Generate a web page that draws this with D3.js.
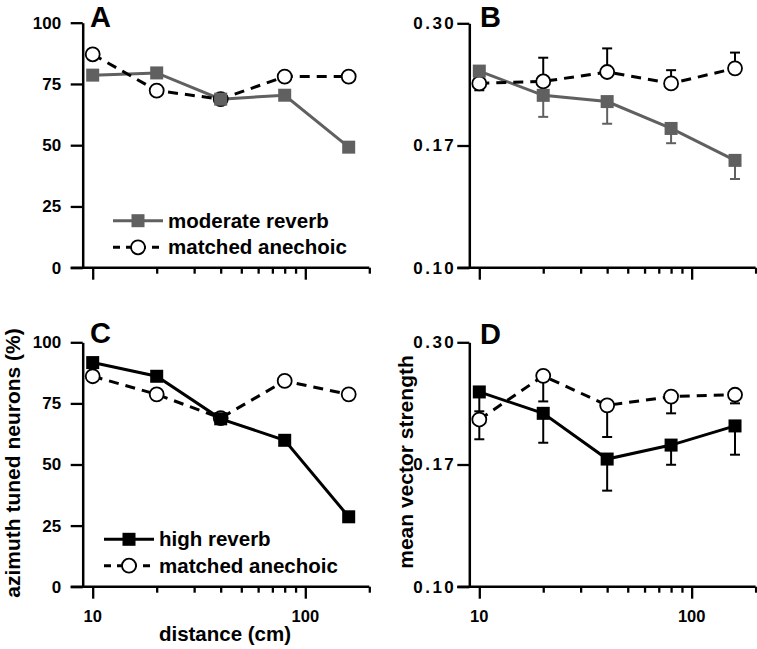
<!DOCTYPE html>
<html><head><meta charset="utf-8">
<script src="https://cdn.jsdelivr.net/npm/d3@7"></script>
<style>
body{margin:0;background:#fff}
svg{display:block}
text{font-family:"Liberation Sans",Arial,Helvetica,sans-serif;font-weight:bold;fill:#000}
</style>
</head><body>
<svg id="chart" width="757" height="649"></svg>
<script>
// ---- data ----
const distances = [10, 20, 40, 80, 160];
const xMajorTicks = [10, 100];
const xMinorTicks = [20, 30, 40, 50, 60, 70, 80, 90, 200];
const xTickLabels = ["10", "100"];
const pctTicks = [0, 25, 50, 75, 100];
const pctTickLabels = ["0", "25", "50", "75", "100"];
const vsTicks = [0.10, 0.1732, 0.30];
const vsTickLabels = ["0.10", "0.17", "0.30"];

// A: % azimuth tuned, moderate reverb vs matched anechoic
const tunedModerate = [78.6, 79.5, 68.8, 70.4, 49.2];
const tunedModerateAnechoic = [87.1, 72.3, 68.8, 78.0, 78.0];
// C: % azimuth tuned, high reverb vs matched anechoic
const tunedHigh = [91.7, 86.1, 68.7, 59.9, 28.6];
const tunedHighAnechoic = [86.1, 78.7, 69.0, 84.2, 78.7];
// B: mean vector strength, moderate reverb (value, error-bar end)
const vsModerate = [0.242, 0.217, 0.211, 0.187, 0.162];
const vsModerateErr = [null, 0.197, 0.191, 0.175, 0.149];
const vsModerateAnechoic = [0.229, 0.231, 0.241, 0.229, 0.245];
const vsModerateAnechoicErr = [0.222, 0.257, 0.268, 0.243, 0.263];
// D: mean vector strength, high reverb
const vsHigh = [0.240, 0.218, 0.1775, 0.189, 0.206];
const vsHighErr = [0.220, 0.191, 0.154, 0.173, 0.181];
const vsHighAnechoic = [0.212, 0.258, 0.226, 0.235, 0.237];
const vsHighAnechoicErr = [0.194, 0.230, 0.196, 0.218, 0.228];

const legendModerate = ["moderate reverb", "matched anechoic"];
const legendHigh = ["high reverb", "matched anechoic"];

// ---- drawing ----
const GRAY = "#606060";
const svg = d3.select("#chart");

function drawPanel(p) {
  const g = svg.append("g");
  const x = d3.scaleLog().domain([10, 200]).range(p.xr);
  const y = (p.log ? d3.scaleLog() : d3.scaleLinear()).domain(p.yd).range(p.yr);

  // y axis
  const ya = d3.axisLeft(y).tickValues(p.yt).tickFormat((d, i) => p.yl[i])
    .tickSize(12).tickSizeOuter(0).tickPadding(p.pad);
  const yg = g.append("g").attr("transform", `translate(${p.ax},0)`).call(ya);
  yg.attr("font-size", null).attr("font-family", null);
  yg.select(".domain").attr("stroke", "#000").attr("stroke-width", 2.5);
  yg.selectAll(".tick line").attr("stroke", "#000").attr("stroke-width", 2.3);
  yg.selectAll(".tick text").style("font-size", "17px")
    .style("letter-spacing", p.ls + "px");

  // x axis
  const allTicks = xMajorTicks.concat(xMinorTicks);
  const xa = d3.axisBottom(x).tickValues(allTicks).tickFormat(() => "").tickSize(6);
  const xg = g.append("g").attr("transform", `translate(0,${p.yr[0]})`).call(xa);
  xg.select(".domain").remove();
  xg.selectAll(".tick line").attr("stroke", "#000").attr("stroke-width", 2.3)
    .attr("y2", d => xMajorTicks.includes(d) ? 12 : 6);
  xg.append("line").attr("x1", p.ax - 12).attr("x2", x(200))
    .attr("y1", 0).attr("y2", 0).attr("stroke", "#000").attr("stroke-width", 2.5);
  if (p.xlabels) {
    xg.selectAll(".xl").data(xMajorTicks).enter().append("text")
      .attr("x", d => x(d)).attr("y", 35).attr("text-anchor", "middle")
      .style("font-size", "16.5px").text((d, i) => xTickLabels[i]);
  }

  // series lines
  const line = d3.line().x((d, i) => x(distances[i])).y(d => y(d));
  g.append("path").datum(p.rev).attr("d", line).attr("fill", "none")
    .attr("stroke", p.col).attr("stroke-width", 3);
  g.append("path").datum(p.ane).attr("d", line).attr("fill", "none")
    .attr("stroke", "#000").attr("stroke-width", 3).attr("stroke-dasharray", "10,7");

  // error bars
  function errBars(vals, errs, col) {
    if (!errs) return;
    const eg = g.append("g").attr("stroke", col).attr("stroke-width", 2);
    vals.forEach((v, i) => {
      const e = errs[i];
      if (e == null) return;
      const cx = x(distances[i]);
      eg.append("line").attr("x1", cx).attr("x2", cx).attr("y1", y(v)).attr("y2", y(e));
      eg.append("line").attr("x1", cx - 5).attr("x2", cx + 5).attr("y1", y(e)).attr("y2", y(e));
    });
  }
  errBars(p.ane, p.aneErr, "#000");
  errBars(p.rev, p.revErr, p.col);

  // markers
  g.selectAll(".circ").data(p.ane).enter().append("circle")
    .attr("cx", (d, i) => x(distances[i])).attr("cy", d => y(d)).attr("r", 7)
    .attr("fill", "#fff").attr("stroke", "#000").attr("stroke-width", 1.8);
  g.selectAll(".sq").data(p.rev).enter().append("rect")
    .attr("x", (d, i) => x(distances[i]) - 6.5).attr("y", d => y(d) - 6.5)
    .attr("width", 13).attr("height", 13).attr("fill", p.col);

  // panel letter
  g.append("text").attr("x", p.lx).attr("y", p.ly).style("font-size", "29px").text(p.letter);

  // legend
  if (p.legend) {
    const L = p.legend;
    const lg = g.append("g");
    lg.append("line").attr("x1", L.x0).attr("x2", L.x1).attr("y1", L.y0).attr("y2", L.y0)
      .attr("stroke", p.col).attr("stroke-width", 3);
    lg.append("rect").attr("x", L.mx - 6.5).attr("y", L.y0 - 6.5).attr("width", 13).attr("height", 13)
      .attr("fill", p.col);
    lg.append("line").attr("x1", L.x0).attr("x2", L.x1 + 2).attr("y1", L.y1).attr("y2", L.y1)
      .attr("stroke", "#000").attr("stroke-width", 3).attr("stroke-dasharray", "7,6");
    lg.append("circle").attr("cx", L.mx).attr("cy", L.y1).attr("r", 7)
      .attr("fill", "#fff").attr("stroke", "#000").attr("stroke-width", 1.8);
    lg.append("text").attr("x", L.tx).attr("y", L.y0 + 7).style("font-size", "20.5px").text(L.labels[0]);
    lg.append("text").attr("x", L.tx).attr("y", L.y1 + 7).style("font-size", "20.5px").text(L.labels[1]);
  }
}

drawPanel({letter: "A", lx: 90, ly: 27, ax: 82.7, xr: [92.7, 369.3], yr: [267.7, 22.7],
  yd: [0, 100], log: false, yt: pctTicks, yl: pctTickLabels, pad: 9.5, ls: 0, xlabels: false,
  rev: tunedModerate, ane: tunedModerateAnechoic, col: GRAY,
  legend: {x0: 113, x1: 163, mx: 138, tx: 168, y0: 220.7, y1: 247.3, labels: legendModerate}});

drawPanel({letter: "B", lx: 480, ly: 27, ax: 469.3, xr: [479.3, 755.6], yr: [267.7, 23.3],
  yd: [0.10, 0.30], log: true, yt: vsTicks, yl: vsTickLabels, pad: 1, ls: 2.5, xlabels: false,
  rev: vsModerate, revErr: vsModerateErr, ane: vsModerateAnechoic, aneErr: vsModerateAnechoicErr, col: GRAY});

drawPanel({letter: "C", lx: 90, ly: 343, ax: 82.7, xr: [92.7, 369.3], yr: [586.7, 342.3],
  yd: [0, 100], log: false, yt: pctTicks, yl: pctTickLabels, pad: 9.5, ls: 0, xlabels: true,
  rev: tunedHigh, ane: tunedHighAnechoic, col: "#000",
  legend: {x0: 104, x1: 154, mx: 129, tx: 159, y0: 539.3, y1: 565.7, labels: legendHigh}});

drawPanel({letter: "D", lx: 480, ly: 344, ax: 469.3, xr: [479.3, 755.6], yr: [586.7, 342.3],
  yd: [0.10, 0.30], log: true, yt: vsTicks, yl: vsTickLabels, pad: 1, ls: 2.5, xlabels: true,
  rev: vsHigh, revErr: vsHighErr, ane: vsHighAnechoic, aneErr: vsHighAnechoicErr, col: "#000"});

// axis titles
svg.append("text").attr("transform", "translate(20,463) rotate(-90)").attr("text-anchor", "middle")
  .style("font-size", "21px").text("azimuth tuned neurons (%)");
svg.append("text").attr("transform", "translate(413,462) rotate(-90)").attr("text-anchor", "middle")
  .style("font-size", "21px").text("mean vector strength");
svg.append("text").attr("x", 225).attr("y", 641).attr("text-anchor", "middle")
  .style("font-size", "20.5px").text("distance (cm)");
</script>
</body></html>
